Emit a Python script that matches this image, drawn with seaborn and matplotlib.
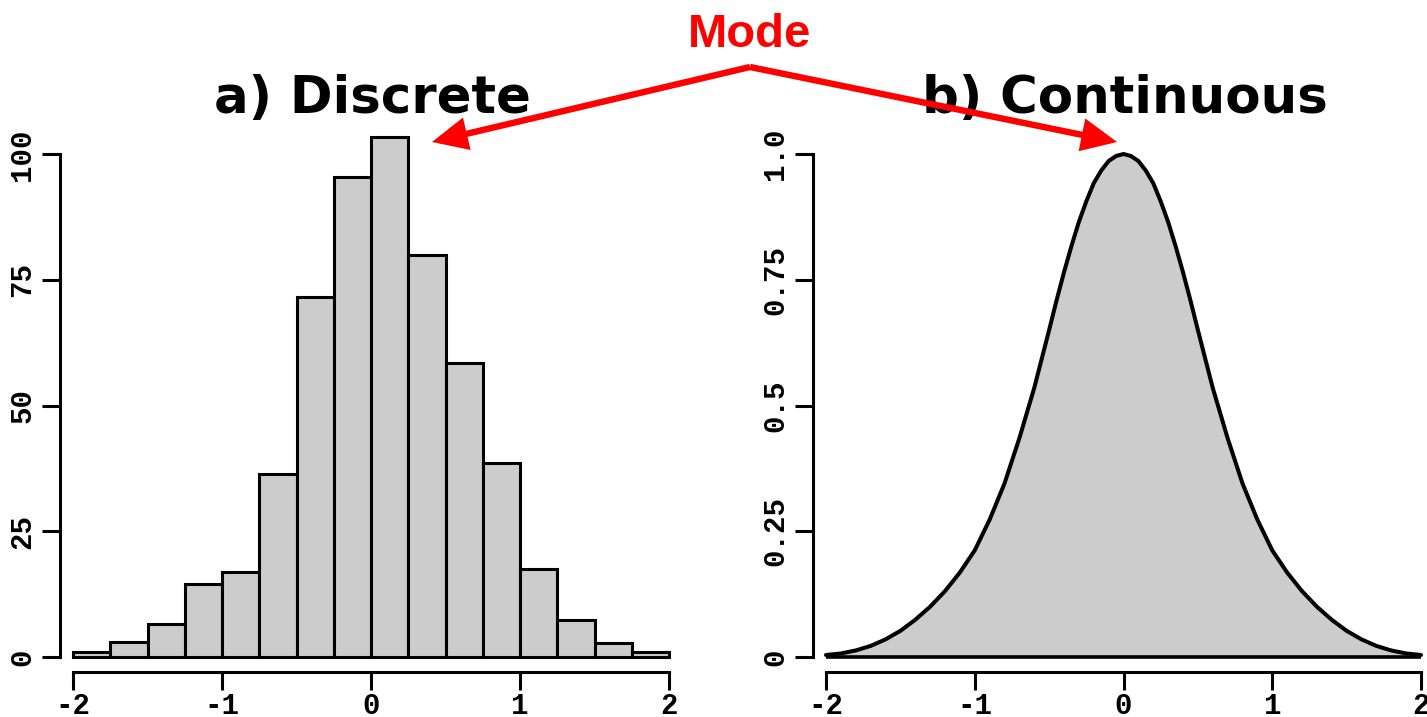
import matplotlib
matplotlib.use("Agg")
import matplotlib.pyplot as plt
import seaborn as sns
import numpy as np
from matplotlib.patches import FancyArrowPatch, ArrowStyle

# ---------------- data ----------------
bin_edges = [-2.0, -1.75, -1.5, -1.25, -1.0, -0.75, -0.5, -0.25, 0.0,
             0.25, 0.5, 0.75, 1.0, 1.25, 1.5, 1.75, 2.0]
bin_counts = [1.0, 3.0, 6.6, 14.6, 17.0, 36.4, 71.6, 95.4, 103.4,
              80.0, 58.4, 38.5, 17.6, 7.3, 2.7, 1.0]

curve_x = [-2.0, -1.9, -1.8, -1.7, -1.6, -1.5, -1.4, -1.3, -1.2, -1.1,
           -1.0, -0.9, -0.8, -0.7, -0.6, -0.5, -0.45, -0.4, -0.35, -0.3,
           -0.25, -0.2, -0.15, -0.1, -0.05, 0.0, 0.05, 0.1, 0.15, 0.2,
           0.25, 0.3, 0.35, 0.4, 0.45, 0.5, 0.6, 0.7, 0.8, 0.9,
           1.0, 1.1, 1.2, 1.3, 1.4, 1.5, 1.6, 1.7, 1.8, 1.9, 2.0]
curve_y = [0.004, 0.007, 0.013, 0.022, 0.035, 0.052, 0.074, 0.100, 0.131, 0.168,
           0.212, 0.273, 0.345, 0.435, 0.535, 0.650, 0.709, 0.765, 0.817, 0.865,
           0.906, 0.942, 0.967, 0.986, 0.996, 1.000, 0.996, 0.986, 0.967, 0.942,
           0.906, 0.865, 0.817, 0.765, 0.709, 0.650, 0.535, 0.435, 0.345, 0.273,
           0.212, 0.168, 0.131, 0.100, 0.074, 0.052, 0.035, 0.022, 0.013, 0.007, 0.004]

x_ticks = [-2, -1, 0, 1, 2]
x_tick_labels = ["-2", "-1", "0", "1", "2"]
left_y_ticks = [0, 25, 50, 75, 100]
left_y_labels = ["0", "25", "50", "75", "100"]
right_y_ticks = [0, 0.25, 0.5, 0.75, 1.0]
right_y_labels = ["0", "0.25", "0.5", "0.75", "1.0"]

title_left = "a) Discrete"
title_right = "b) Continuous"
mode_label = "Mode"

# ---------------- figure ----------------
sns.set_style("white")
plt.rcParams["text.color"] = "black"
plt.rcParams["xtick.color"] = "black"
plt.rcParams["ytick.color"] = "black"
plt.rcParams["xtick.labelcolor"] = "black"
plt.rcParams["ytick.labelcolor"] = "black"

W, H = 1427, 717
fig = plt.figure(figsize=(W / 100, H / 100), dpi=100)

def px_axes(x0, x1, y_top, y_bot):
    return fig.add_axes([x0 / W, (H - y_bot) / H, (x1 - x0) / W, (y_bot - y_top) / H])

GRAY = "#CCCCCC"
tick_font = dict(fontfamily="Liberation Mono", fontweight="bold", fontsize=21, color="black")

# left: histogram
ax1 = px_axes(60, 682, 130, 672)
centers = [(a + b) / 2 for a, b in zip(bin_edges[:-1], bin_edges[1:])]
sns.histplot(x=centers, weights=bin_counts, bins=bin_edges, ax=ax1,
             color=GRAY, edgecolor="black", linewidth=2.2, alpha=1)
ax1.set_xlim(-2 - 13 / 149, 2 + 13 / 149)
ax1.set_ylim(-15 / 5.027, (657 - 130) / 5.027)

# right: continuous curve
ax2 = px_axes(813, 1434, 130, 672)
ax2.fill_between(curve_x, curve_y, 0, color=GRAY, linewidth=0, zorder=1)
sns.lineplot(x=curve_x, y=curve_y, ax=ax2, color="black", linewidth=2.9, zorder=3)
ax2.hlines(0, curve_x[0], curve_x[-1], color="black", linewidth=2.6, zorder=3)
ax2.set_xlim(-2 - 13 / 148.75, 2 + 13 / 148.75)
ax2.set_ylim(-15 / 503, (657 - 130) / 503)

for ax, yt, yl, top in [(ax1, left_y_ticks, left_y_labels, 100),
                        (ax2, right_y_ticks, right_y_labels, 1.0)]:
    ax.set_xlabel("")
    ax.set_ylabel("")
    ax.grid(False)
    for s in ["top", "right"]:
        ax.spines[s].set_visible(False)
    for s in ["left", "bottom"]:
        ax.spines[s].set_visible(True)
        ax.spines[s].set_linewidth(2.2)
        ax.spines[s].set_color("black")
    ax.spines["left"].set_bounds(0, top)
    ax.spines["bottom"].set_bounds(-2, 2)
    ax.set_xticks(x_ticks, labels=x_tick_labels, **tick_font)
    ax.set_yticks(yt, labels=yl, rotation=90, va="center", **tick_font)
    ax.tick_params(axis="both", direction="out", length=13, width=2.2,
                   color="black", left=True, bottom=True)
    ax.tick_params(axis="x", pad=1.5)
    ax.tick_params(axis="y", pad=4)
    ax.set_facecolor("none")

# titles
fig.text(372.5 / W, (H - 113) / H, title_left, ha="center", va="baseline",
         fontfamily="DejaVu Sans", fontweight="bold", fontsize=37,
         color="black", zorder=3)
fig.text(1125 / W, (H - 113) / H, title_right, ha="center", va="baseline",
         fontfamily="DejaVu Sans", fontweight="bold", fontsize=37,
         color="black", zorder=3)
fig.text(750 / W, (H - 47) / H, mode_label, ha="center", va="baseline",
         fontfamily="Liberation Sans", fontweight="bold", fontsize=34,
         color="#FF0000", zorder=3)

# arrows
style = ArrowStyle("-|>", head_length=0.9, head_width=0.42)
start = (750 / W, (H - 67) / H)
for tip in [(432 / W, (H - 142) / H), (1117 / W, (H - 142) / H)]:
    arr = FancyArrowPatch(start, tip, transform=fig.transFigure,
                          arrowstyle=style, mutation_scale=20, linewidth=4.6,
                          color="#FF0000", shrinkA=0, shrinkB=0, zorder=10,
                          joinstyle="miter", capstyle="butt")
    fig.add_artist(arr)

fig.savefig("out.png", dpi=100)
